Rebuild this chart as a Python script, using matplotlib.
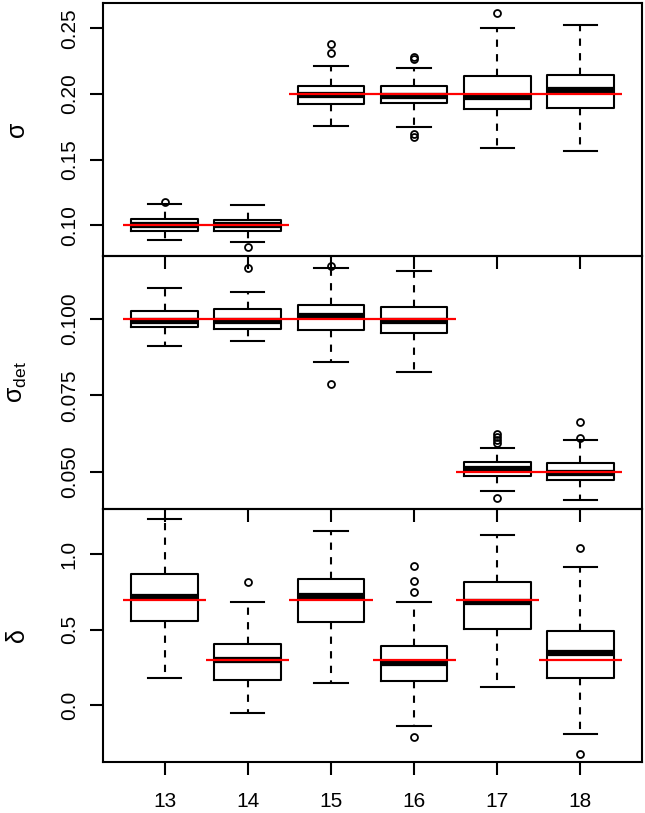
import matplotlib
matplotlib.use("Agg")
import matplotlib.pyplot as plt
from matplotlib.ticker import FormatStrFormatter

plt.rcParams['font.family'] = ['Liberation Sans', 'DejaVu Sans']
plt.rcParams['mathtext.fontset'] = 'custom'
plt.rcParams['mathtext.rm'] = 'Liberation Sans'
plt.rcParams['mathtext.it'] = 'Liberation Sans:italic'

scenarios = [13, 14, 15, 16, 17, 18]

# ---- panel 1: sigma ----
sig_med = [0.1000, 0.1000, 0.1992, 0.1987, 0.1977, 0.2028]
sig_q1 = [0.0957, 0.0957, 0.1922, 0.1931, 0.1888, 0.1893]
sig_q3 = [0.1048, 0.1040, 0.2059, 0.2061, 0.2135, 0.2147]
sig_lo = [0.0888, 0.0870, 0.1756, 0.1749, 0.1589, 0.1568]
sig_hi = [0.1165, 0.1152, 0.2211, 0.2200, 0.2505, 0.2525]
sig_fl = [[0.1180], [0.0832], [0.2383, 0.2312], [0.2280, 0.2270, 0.1693, 0.1673], [0.2619], []]
sig_true = [0.1, 0.1, 0.2, 0.2, 0.2, 0.2]

# ---- panel 2: sigma_det ----
det_med = [0.0994, 0.0994, 0.1011, 0.0994, 0.0510, 0.0497]
det_q1 = [0.0974, 0.0966, 0.0965, 0.0953, 0.0486, 0.0474]
det_q3 = [0.1026, 0.1031, 0.1047, 0.1039, 0.0531, 0.0527]
det_lo = [0.0911, 0.0928, 0.0858, 0.0825, 0.0437, 0.0407]
det_hi = [0.1101, 0.1087, 0.1168, 0.1157, 0.0577, 0.0603]
det_fl = [[], [0.1166], [0.1174, 0.0786], [], [0.0595, 0.0605, 0.0615, 0.0625, 0.0415], [0.0609, 0.0662]]
det_true = [0.1, 0.1, 0.1, 0.1, 0.05, 0.05]

# ---- panel 3: delta ----
del_med = [0.719, 0.302, 0.721, 0.281, 0.682, 0.347]
del_q1 = [0.560, 0.168, 0.549, 0.163, 0.503, 0.184]
del_q3 = [0.867, 0.405, 0.838, 0.395, 0.817, 0.493]
del_lo = [0.179, -0.053, 0.148, -0.135, 0.123, -0.188]
del_hi = [1.237, 0.682, 1.155, 0.686, 1.126, 0.914]
del_fl = [[], [0.815], [], [0.748, 0.821, 0.923, -0.212], [], [1.044, -0.320]]
del_true = [0.7, 0.3, 0.7, 0.3, 0.7, 0.3]

y_ticks = [[0.10, 0.15, 0.20, 0.25], [0.050, 0.075, 0.100], [0.0, 0.5, 1.0]]
y_fmt = ['%.2f', '%.3f', '%.1f']
y_lims = [(0.0766, 0.2693), (0.0378, 0.1206), (-0.375, 1.300)]
y_labels = ['σ', r'$\mathrm{σ}_{\mathrm{det}}$', 'δ']

panels = [
    (sig_med, sig_q1, sig_q3, sig_lo, sig_hi, sig_fl, sig_true),
    (det_med, det_q1, det_q3, det_lo, det_hi, det_fl, det_true),
    (del_med, del_q1, del_q3, del_lo, del_hi, del_fl, del_true),
]

W, H = 645, 813
fig = plt.figure(figsize=(W / 100, H / 100), dpi=100)
fig.patch.set_facecolor('white')

left_px, right_px = 103, 642
tops = [3, 256, 509]
bots = [256, 509, 762]

lw = 1.5
for i, (med, q1, q3, lo, hi, fl, true) in enumerate(panels):
    ax = fig.add_axes([left_px / W, 1 - bots[i] / H, (right_px - left_px) / W, (bots[i] - tops[i]) / H])
    ax.set_facecolor('none')
    ax.set_zorder(10 - i)
    stats = []
    for k in range(len(scenarios)):
        stats.append(dict(med=med[k], q1=q1[k], q3=q3[k], whislo=lo[k], whishi=hi[k], fliers=fl[k]))
    ax.bxp(stats, positions=scenarios, widths=0.8, showfliers=True, patch_artist=False,
           boxprops=dict(color='black', linewidth=lw),
           medianprops=dict(color='black', linewidth=4.5, solid_capstyle='butt'),
           whiskerprops=dict(color='black', linewidth=lw, linestyle=(0, (3.5, 3.5))),
           capprops=dict(color='black', linewidth=lw),
           capwidths=0.4,
           flierprops=dict(marker='o', markerfacecolor='none', markeredgecolor='black',
                           markersize=5, markeredgewidth=1.3, linestyle='none'))
    for k, x in enumerate(scenarios):
        ax.hlines(true[k], x - 0.5, x + 0.5, colors='red', linewidth=1.6, zorder=5)
    ax.set_xlim(12.26, 18.74)
    ax.set_ylim(*y_lims[i])
    ax.set_yticks(y_ticks[i])
    ax.yaxis.set_major_formatter(FormatStrFormatter(y_fmt[i]))
    ax.set_xticks(scenarios)
    if i == 2:
        ax.set_xticklabels([str(s) for s in scenarios])
    else:
        ax.set_xticklabels([])
    for sp in ax.spines.values():
        sp.set_linewidth(1.5)
    ax.tick_params(axis='both', length=9.5, width=1.5, direction='out', labelsize=15)
    ax.tick_params(axis='y', pad=8)
    ax.tick_params(axis='x', pad=12)
    for lab in ax.get_yticklabels():
        lab.set_rotation(90)
        lab.set_va('center')
    ax.set_ylabel(y_labels[i], fontsize=18, labelpad=22)

fig.savefig('out.png', dpi=100)
